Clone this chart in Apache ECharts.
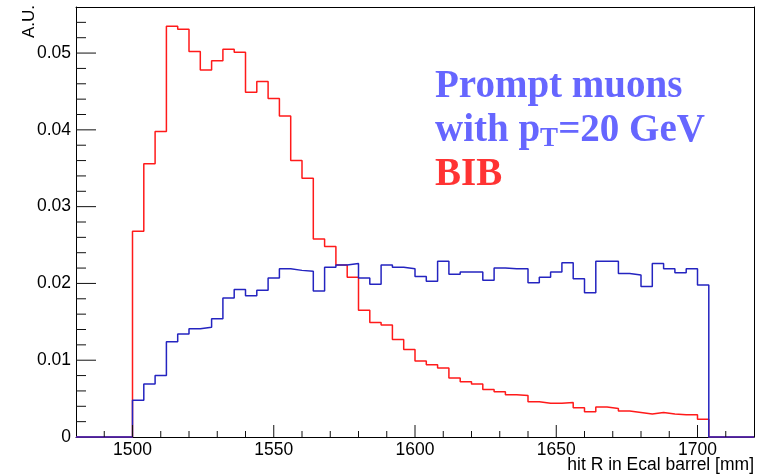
<!DOCTYPE html>
<html><head><meta charset="utf-8">
<script src="https://cdn.jsdelivr.net/npm/echarts@6/dist/echarts.min.js"></script>
<style>html,body{margin:0;padding:0;background:#fff}#c{width:767px;height:476px}</style>
</head><body><div id="c"></div>
<script>
// Histogram binning (hit R in Ecal barrel, mm)
const binStart = 1500;
const binWidth = 4;
const xRange = [1480, 1720];
const yRange = [0, 0.056];

// BIB (red)
const bibValues = [
  0.0268, 0.0356, 0.0398, 0.0535, 0.0531, 0.0502, 0.0478, 0.0490, 0.0505, 0.0501,
  0.0449, 0.0463, 0.0441, 0.0418, 0.0360, 0.0337, 0.0258, 0.0248, 0.0224, 0.0208,
  0.0165, 0.0149, 0.0146, 0.0127, 0.0114, 0.0099, 0.0094, 0.0090, 0.0077, 0.0072,
  0.0069, 0.0062, 0.0059, 0.0055, 0.0054, 0.0046, 0.0044, 0.0044, 0.0045, 0.0038,
  0.0033, 0.0039, 0.0037, 0.0034, 0.0032, 0.0030, 0.0032, 0.0030, 0.0029, 0.0029,
  0.0023
];

// Prompt muons pT = 20 GeV (blue)
const muonValues = [
  0.0048, 0.0069, 0.0080, 0.0124, 0.0134, 0.0141, 0.0143, 0.0154, 0.0181, 0.0192,
  0.0184, 0.0191, 0.0207, 0.0219, 0.0217, 0.0216, 0.0190, 0.0221, 0.0224, 0.0226,
  0.0207, 0.0199, 0.0224, 0.0221, 0.0219, 0.0209, 0.0203, 0.0229, 0.0212, 0.0215,
  0.0215, 0.0204, 0.0220, 0.0219, 0.0219, 0.0201, 0.0208, 0.0215, 0.0227, 0.0206,
  0.0188, 0.0229, 0.0229, 0.0213, 0.0211, 0.0196, 0.0226, 0.0219, 0.0214, 0.0219,
  0.0198
];

// Tick labels / tick positions
const xTickLabels = [1500, 1550, 1600, 1650, 1700];
const xMinorTicks = [1490, 1510, 1520, 1530, 1540, 1560, 1570, 1580, 1590, 1610, 1620, 1630, 1640,
  1660, 1670, 1680, 1690, 1710];
const yTickLabels = [0, 0.01, 0.02, 0.03, 0.04, 0.05];
const yMajorTicks = [0.01, 0.02, 0.03, 0.04, 0.05];
const yMinorTicks = [0.002, 0.004, 0.006, 0.008, 0.012, 0.014, 0.016, 0.018, 0.022, 0.024, 0.026, 0.028,
  0.032, 0.034, 0.036, 0.038, 0.042, 0.044, 0.046, 0.048, 0.052, 0.054];

const xTitle = 'hit R in Ecal barrel [mm]';
const yTitle = 'A.U.';

// Layout of the plot frame (pixels)
const G = { left: 76, right: 13, top: 7, bottom: 39 };
const W = 767, H = 476;
const plotW = W - G.left - G.right;
const plotH = H - G.top - G.bottom;
// tick lengths in pixels
const xMajLen = 12, xMinLen = 6, yMajLen = 20, yMinLen = 10;

function histPoints(vals) {
  const pts = [[xRange[0], 0], [binStart, 0]];
  vals.forEach(function (v, i) {
    const lo = binStart + i * binWidth;
    pts.push([lo, v], [lo + binWidth, v]);
  });
  const end = binStart + vals.length * binWidth;
  pts.push([end, 0], [xRange[1], 0]);
  return pts;
}

const labelFont = { fontFamily: 'Liberation Sans', fontSize: 17.5, color: '#000' };
function blackLine() { return { color: '#000', width: 1, opacity: 1 }; }

function axisBase(extra) {
  return Object.assign({
    type: 'value', show: true,
    axisLine: { show: false, onZero: false },
    axisTick: { show: false },
    axisLabel: { show: false },
    splitLine: { show: false },
    splitArea: { show: false }
  }, extra);
}

// tick segments along an axis, expressed in axis units (pixel length converted by the axis scale)
function xTickSegments(vals, lenPx) {
  const len = lenPx * (yRange[1] - yRange[0]) / plotH;
  const d = [];
  vals.forEach(function (v) { d.push([v, yRange[0]], [v, yRange[0] + len], [v, '-']); });
  return d;
}
function yTickSegments(vals, lenPx) {
  const len = lenPx * (xRange[1] - xRange[0]) / plotW;
  const d = [];
  vals.forEach(function (v) { d.push([xRange[0], v], [xRange[0] + len, v], ['-', v]); });
  return d;
}
function tickLineSeries(name, data) {
  return {
    name: name, type: 'line', xAxisIndex: 0, yAxisIndex: 0, data: data,
    showSymbol: false, symbol: 'none', connectNulls: false, clip: false, silent: true,
    lineStyle: { color: '#111', width: 1, opacity: 1 }, z: 10
  };
}

const chart = echarts.init(document.getElementById('c'), null, { renderer: 'canvas' });
chart.setOption({
  animation: false,
  backgroundColor: '#fff',
  grid: Object.assign({ show: false }, G),
  xAxis: [
    axisBase({
      min: xRange[0], max: xRange[1], position: 'bottom',
      axisLine: { show: true, onZero: false, lineStyle: blackLine() },
      axisLabel: Object.assign({
        show: true, customValues: xTickLabels, margin: 4,
        formatter: function (v) { return String(v); }
      }, labelFont)
    }),
    axisBase({
      min: xRange[0], max: xRange[1], position: 'top',
      axisLine: { show: true, onZero: false, lineStyle: blackLine() }
    })
  ],
  yAxis: [
    axisBase({
      min: yRange[0], max: yRange[1], position: 'left',
      axisLine: { show: true, onZero: false, lineStyle: blackLine() },
      axisLabel: Object.assign({
        show: true, customValues: yTickLabels, margin: 5,
        formatter: function (v) { return String(Math.round(v * 1000) / 1000); }
      }, labelFont)
    }),
    axisBase({
      min: yRange[0], max: yRange[1], position: 'right',
      axisLine: { show: true, onZero: false, lineStyle: blackLine() }
    })
  ],
  series: [
    {
      name: 'BIB', type: 'line', xAxisIndex: 0, yAxisIndex: 0,
      data: histPoints(bibValues), showSymbol: false, symbol: 'none', clip: false,
      lineStyle: { color: '#ff1a1a', width: 1.5 }, z: 3
    },
    {
      name: 'Prompt muons', type: 'line', xAxisIndex: 0, yAxisIndex: 0,
      data: histPoints(muonValues), showSymbol: false, symbol: 'none', clip: false,
      lineStyle: { color: '#2424c0', width: 1.5 }, z: 4
    },
    tickLineSeries('xMajorTicks', xTickSegments(xTickLabels, xMajLen)),
    tickLineSeries('xMinorTicks', xTickSegments(xMinorTicks, xMinLen)),
    tickLineSeries('yMajorTicks', yTickSegments(yMajorTicks, yMajLen)),
    tickLineSeries('yMinorTicks', yTickSegments(yMinorTicks, yMinLen))
  ],
  graphic: [
    {
      type: 'text', x: 29, y: 5, rotation: Math.PI / 2,
      style: { text: yTitle, fontFamily: 'Liberation Sans', fontSize: 17, fill: '#000', textAlign: 'right', textVerticalAlign: 'middle' }
    },
    {
      type: 'text', x: 754, y: 465,
      style: { text: xTitle, fontFamily: 'Liberation Sans', fontSize: 17.5, fill: '#000', textAlign: 'right', textVerticalAlign: 'middle' }
    },
    {
      type: 'text', left: 435, top: 67,
      style: {
        text: '{b|Prompt muons}\n{b|with p}{s|T}{b|=20 GeV}\n{r|BIB}',
        rich: {
          b: { fontFamily: 'Liberation Serif', fontWeight: 'bold', fontSize: 39, fill: '#6666ff', lineHeight: 44 },
          s: { fontFamily: 'Liberation Serif', fontWeight: 'bold', fontSize: 27, fill: '#6666ff', lineHeight: 19, verticalAlign: 'bottom' },
          r: { fontFamily: 'Liberation Serif', fontWeight: 'bold', fontSize: 39, fill: '#ff3333', lineHeight: 44 }
        }
      }
    }
  ]
});
</script>
</body></html>
